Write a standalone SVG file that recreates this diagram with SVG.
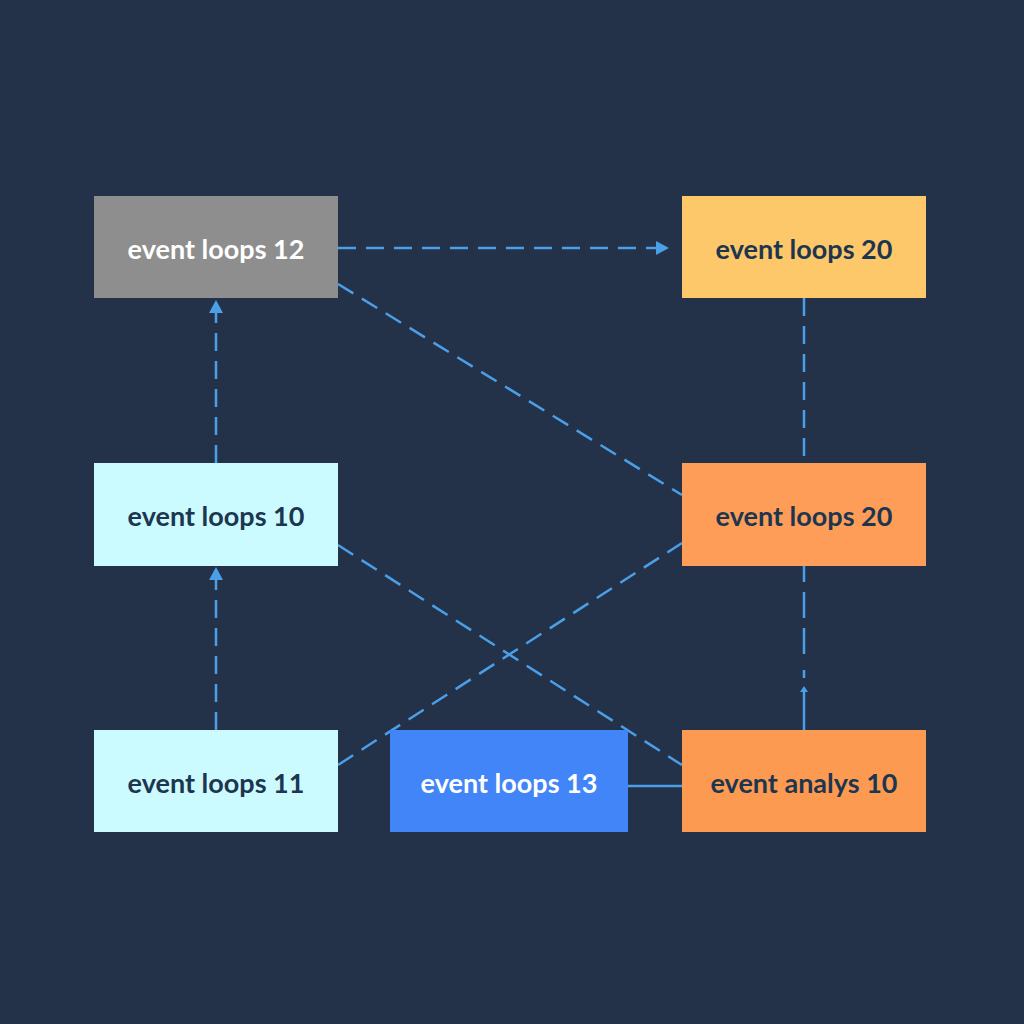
<svg xmlns="http://www.w3.org/2000/svg" width="1024" height="1024" viewBox="0 0 1024 1024">
<defs>
<style>
.bg{fill:#233249}
.n text{font-family:Lato,"Noto Sans",sans-serif;font-size:27px;font-weight:bold;text-anchor:middle;dominant-baseline:central}
.dark{fill:#1d3650}
.light{fill:#ffffff}
.c line{stroke:#4a9fe8;stroke-width:2.5;fill:none}
.d{stroke-dasharray:18 10}
</style>
</defs>
<rect class="bg" x="0" y="0" width="1024" height="1024"/>
<g id="connectors" class="c">
<line class="d" x1="338" y1="248" x2="668" y2="248"/>
<path d="M656,241 L669,248 L656,255 z" fill="#4a9fe8"/>
<line class="d" x1="338" y1="284" x2="682" y2="495"/>
<line class="d" x1="804" y1="298" x2="804" y2="463"/>
<line class="d" x1="216" y1="463" x2="216" y2="310"/>
<path d="M209,313 L216,300 L223,313 z" fill="#4a9fe8"/>
<line class="d" x1="216" y1="730" x2="216" y2="578"/>
<path d="M209,580 L216,567 L223,580 z" fill="#4a9fe8"/>
<line class="d" x1="338" y1="545" x2="682" y2="765"/>
<line class="d" x1="338" y1="765" x2="682" y2="543"/>
<line x1="628" y1="786" x2="682" y2="786"/>
<line x1="804" y1="730" x2="804" y2="692"/>
<path d="M800,692 L804,686 L808,692 z" fill="#4a9fe8"/>
<line x1="804" y1="678" x2="804" y2="566" style="stroke-dasharray:8 16 26 10 26 10 26 10"/>
</g>
<g id="n1" class="n"><rect x="94" y="196" width="244" height="102" fill="#8e8e8e"/><text class="light" x="216" y="248">event loops 12</text></g>
<g id="n2" class="n"><rect x="682" y="196" width="244" height="102" fill="#fdc86a"/><text class="dark" x="804" y="248">event loops 20</text></g>
<g id="n3" class="n"><rect x="94" y="463" width="244" height="103" fill="#ccfbff"/><text class="dark" x="216" y="515">event loops 10</text></g>
<g id="n4" class="n"><rect x="682" y="463" width="244" height="103" fill="#fd9d58"/><text class="dark" x="804" y="515">event loops 20</text></g>
<g id="n5" class="n"><rect x="94" y="730" width="244" height="102" fill="#ccfbff"/><text class="dark" x="216" y="782">event loops 11</text></g>
<g id="n6" class="n"><rect x="390" y="730" width="238" height="102" fill="#4285f8"/><text class="light" x="509" y="782">event loops 13</text></g>
<g id="n7" class="n"><rect x="682" y="730" width="244" height="102" fill="#fd9a52"/><text class="dark" x="804" y="782">event analys 10</text></g>
</svg>
